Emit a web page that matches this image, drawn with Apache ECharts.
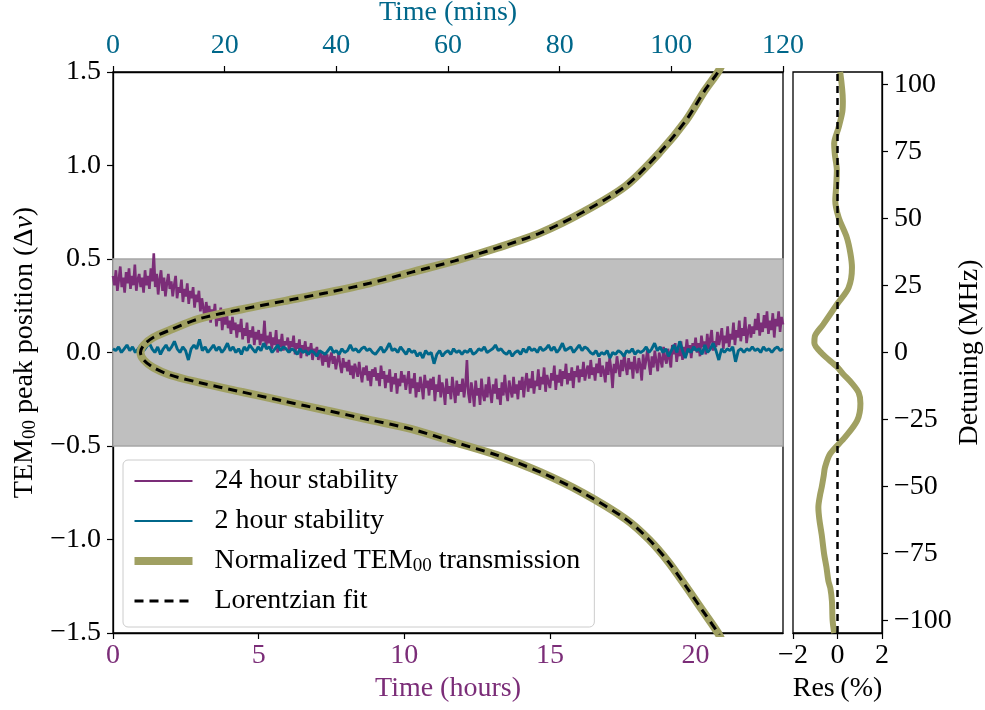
<!DOCTYPE html>
<html><head><meta charset="utf-8">
<script src="https://cdn.jsdelivr.net/npm/echarts@6/dist/echarts.min.js"></script>
<style>html,body{margin:0;padding:0;background:#fff}#c{width:985px;height:710px}</style>
</head><body><div id="c"></div>
<script>
// ---------- DATA ----------
const hourStep = 0.05; // 24 hour stability sampled every 0.05 h
const stab24h = [
 0.41,0.36,0.44,0.33,0.39,0.46,0.35,0.40,0.32,0.43, 0.37,0.45,0.34,0.41,0.36,0.47,0.33,0.39,0.42,0.35,
 0.40,0.32,0.44,0.36,0.41,0.34,0.45,0.38,0.53,0.35, 0.42,0.31,0.39,0.44,0.33,0.40,0.30,0.37,0.42,0.34,
 0.38,0.30,0.36,0.41,0.29,0.35,0.32,0.39,0.27,0.34, 0.30,0.37,0.26,0.33,0.29,0.35,0.24,0.31,0.27,0.33,
 0.22,0.29,0.24,0.18,0.27,0.21,0.25,0.16,0.23,0.19, 0.26,0.14,0.21,0.17,0.24,0.12,0.19,0.15,0.22,0.13,
 0.17,0.10,0.19,0.12,0.16,0.08,0.15,0.11,0.18,0.07, 0.13,0.09,0.16,0.05,0.12,0.08,0.14,0.04,0.11,0.07,
 0.12,0.04,0.10,0.06,0.17,0.03,0.09,0.05,0.11,0.02, 0.08,0.04,0.12,0.00,0.07,0.03,0.10,0.01,0.06,0.04,
 0.08,0.00,0.06,0.03,0.09,-0.01,0.05,0.02,0.07,-0.03, 0.04,0.01,0.06,-0.02,0.03,0.00,0.05,-0.04,0.02,-0.01,
 0.03,-0.04,0.01,-0.02,-0.07,0.00,-0.05,-0.01,-0.08,-0.03, 0.00,-0.06,-0.02,-0.09,-0.04,-0.01,-0.07,-0.11,-0.03,-0.08,
 -0.05,-0.10,-0.04,-0.12,-0.07,-0.14,-0.06,-0.09,-0.13,-0.05, -0.11,-0.16,-0.08,-0.12,-0.07,-0.15,-0.10,-0.18,-0.09,-0.13,
 -0.08,-0.15,-0.11,-0.18,-0.07,-0.14,-0.10,-0.19,-0.12,-0.16, -0.09,-0.21,-0.13,-0.17,-0.11,-0.22,-0.14,-0.18,-0.10,-0.16,
 -0.12,-0.20,-0.15,-0.10,-0.22,-0.14,-0.19,-0.11,-0.24,-0.16, -0.21,-0.13,-0.18,-0.25,-0.12,-0.19,-0.15,-0.23,-0.14,-0.20,
 -0.13,-0.26,-0.17,-0.21,-0.12,-0.24,-0.16,-0.20,-0.28,-0.14, -0.22,-0.18,-0.25,-0.13,-0.20,-0.27,-0.15,-0.23,-0.17,-0.21,
 -0.14,-0.24,-0.18,-0.04,-0.22,-0.27,-0.16,-0.21,-0.29,-0.15, -0.23,-0.19,-0.28,-0.14,-0.22,-0.26,-0.17,-0.24,-0.13,-0.21,
 -0.27,-0.17,-0.22,-0.14,-0.25,-0.19,-0.28,-0.16,-0.23,-0.12, -0.21,-0.26,-0.15,-0.20,-0.24,-0.13,-0.22,-0.17,-0.25,-0.15,
 -0.20,-0.13,-0.24,-0.16,-0.11,-0.21,-0.14,-0.19,-0.10,-0.22, -0.15,-0.18,-0.09,-0.20,-0.13,-0.17,-0.08,-0.21,-0.12,-0.16,
 -0.19,-0.11,-0.15,-0.07,-0.20,-0.12,-0.16,-0.09,-0.18,-0.10, -0.14,-0.06,-0.17,-0.11,-0.15,-0.08,-0.19,-0.10,-0.13,-0.07,
 -0.16,-0.09,-0.13,-0.05,-0.15,-0.10,-0.07,-0.14,-0.04,-0.12, -0.08,-0.15,-0.06,-0.11,-0.03,-0.13,-0.07,-0.10,-0.16,-0.05,
 -0.12,-0.03,-0.09,-0.19,-0.06,-0.11,-0.02,-0.08,-0.13,-0.04, -0.10,-0.01,-0.07,-0.12,-0.03,-0.09,-0.05,-0.14,-0.02,-0.08,
 -0.11,-0.03,-0.07,-0.15,-0.01,-0.09,-0.04,0.02,-0.06,-0.12, -0.02,-0.08,0.01,-0.05,-0.10,0.00,-0.04,-0.08,0.03,-0.03,
 -0.06,0.02,-0.03,-0.08,0.04,-0.01,0.05,-0.05,0.01,-0.02, 0.06,-0.04,0.03,-0.01,0.07,0.00,0.04,-0.03,0.05,0.01,
 0.08,0.00,0.05,-0.02,0.09,0.03,0.06,-0.01,0.10,0.02, 0.07,0.12,0.01,0.06,0.03,0.11,0.04,0.08,0.13,0.02,
 0.09,0.05,0.14,0.03,0.10,0.07,0.16,0.04,0.12,0.08, 0.17,0.06,0.13,0.09,0.19,0.05,0.11,0.15,0.08,0.14,
 0.10,0.18,0.12,0.21,0.09,0.16,0.11,0.20,0.13,0.22, 0.10,0.17,0.12,0.21,0.08,0.18,0.14,0.22,0.11,0.19,
 0.15
];
const minStep = 0.5; // 2 hour stability sampled every 0.5 min
const stab2h = [
 0.02, 0.01, 0.03, 0.00, 0.02, 0.04, 0.01, 0.03, 0.00, 0.02,
 0.04, 0.01, 0.03, 0.05, 0.02, 0.00, 0.03, -0.01, 0.02, 0.04,
 0.01, 0.03, 0.06, 0.02, 0.00, 0.03, 0.01, -0.04, 0.02, 0.04,
 0.02, 0.07, 0.01, 0.03, 0.00, 0.02, 0.04, 0.01, 0.03, 0.00,
 0.02, 0.05, 0.01, 0.03, 0.00, 0.02, -0.01, 0.03, 0.01, 0.04,
 0.02, 0.00, 0.03, 0.01, 0.05, 0.02, 0.03, 0.00, 0.02, 0.04,
 0.01, 0.03, 0.02, 0.00, 0.02, 0.01, -0.01, 0.02, 0.00, 0.01,
 -0.01, 0.01, 0.00, -0.02, 0.01, 0.00, -0.01, 0.01, 0.03, 0.00,
 0.01, -0.01, 0.02, 0.00, 0.01, 0.04, 0.01, 0.02, 0.00, 0.02,
 0.03, 0.01, 0.02, 0.00, -0.01, 0.01, 0.03, 0.00, 0.02, 0.05,
 0.01, 0.02, 0.00, 0.03, 0.01, -0.01, 0.02, 0.00, 0.01, -0.02,
 0.00, -0.03, 0.01, -0.01, 0.00, -0.06, -0.01, 0.01, -0.02, 0.00,
 0.01, -0.01, 0.02, 0.00, 0.01, -0.01, 0.01, 0.00, 0.02, -0.01,
 0.00, 0.02, 0.01, 0.03, 0.00, 0.01, 0.02, 0.04, 0.01, 0.02,
 0.00, -0.01, 0.01, -0.02, 0.00, 0.01, -0.01, 0.02, 0.00, 0.03,
 0.01, 0.02, 0.00, 0.03, 0.01, 0.02, 0.04, 0.01, 0.03, 0.00,
 0.02, 0.05, 0.01, 0.02, 0.03, 0.00, 0.02, 0.04, 0.01, 0.03,
 0.02, 0.00, -0.01, 0.01, -0.02, 0.00, -0.01, 0.01, -0.03, 0.00,
 -0.01, 0.01, 0.00, -0.02, 0.01, 0.00, 0.02, -0.01, 0.01, 0.00,
 0.01, 0.03, 0.00, 0.02, 0.05, 0.01, 0.03, 0.00, 0.02, -0.02,
 0.01, 0.04, 0.00, 0.06, 0.01, -0.03, 0.02, 0.00, 0.03, 0.01,
 0.02, -0.01, 0.04, 0.00, 0.02, 0.05, 0.01, -0.04, 0.02, 0.00,
 0.02, 0.01, 0.03, -0.05, 0.01, 0.02, 0.00, 0.02, 0.01, 0.03,
 0.01, 0.02, 0.00, 0.03, 0.01, 0.02, 0.00, 0.02, 0.03, 0.01,
 0.02
];
// Normalized TEM00 transmission (x: normalized, y: peak position)
const transX = [0.91, 0.903, 0.88, 0.855, 0.829, 0.80, 0.765, 0.701, 0.638, 0.574, 0.51, 0.446, 0.383, 0.319, 0.255, 0.191, 0.128, 0.085, 0.06, 0.046, 0.041, 0.046, 0.06, 0.085, 0.128, 0.191, 0.255, 0.319, 0.383, 0.446, 0.51, 0.574, 0.638, 0.701, 0.765, 0.816, 0.855, 0.883, 0.903, 0.91];
const transY = [-1.55, -1.50, -1.38, -1.25, -1.12, -1.0, -0.89, -0.75, -0.64, -0.55, -0.48, -0.41, -0.36, -0.31, -0.26, -0.21, -0.16, -0.12, -0.08, -0.04, 0.0, 0.04, 0.08, 0.12, 0.18, 0.23, 0.275, 0.32, 0.37, 0.43, 0.49, 0.56, 0.64, 0.75, 0.89, 1.07, 1.24, 1.40, 1.50, 1.55];
// Lorentzian fit
const fitX = [0.91, 0.903, 0.88, 0.855, 0.829, 0.80, 0.765, 0.701, 0.638, 0.574, 0.51, 0.446, 0.383, 0.319, 0.255, 0.191, 0.128, 0.085, 0.06, 0.046, 0.041, 0.046, 0.06, 0.085, 0.128, 0.191, 0.255, 0.319, 0.383, 0.446, 0.51, 0.574, 0.638, 0.701, 0.765, 0.816, 0.855, 0.883, 0.903, 0.91];
const fitY = [-1.55, -1.50, -1.38, -1.25, -1.12, -1.0, -0.89, -0.75, -0.64, -0.55, -0.48, -0.41, -0.36, -0.31, -0.26, -0.21, -0.16, -0.12, -0.08, -0.04, 0.0, 0.04, 0.08, 0.12, 0.18, 0.23, 0.275, 0.32, 0.37, 0.43, 0.49, 0.56, 0.64, 0.75, 0.89, 1.07, 1.24, 1.40, 1.50, 1.55];
// Residuals (%) vs detuning (MHz)
const resX = [-0.15, -0.22, -0.25, -0.32, -0.41, -0.5, -0.6, -0.71, -0.82, -0.86, -0.78, -0.71, -0.62, -0.56, -0.33, 0.35, 0.89, 1.03, 0.95, 0.65, 0.25, -0.03, -0.71, -1.04, -1.02, -0.64, -0.03, 0.5, 0.65, 0.58, 0.42, 0.05, -0.1, -0.06, -0.03, -0.12, -0.15, 0.05, 0.22, 0.24, 0.12];
const resY = [-104.7, -100, -92.8, -88, -85.3, -80, -75.3, -68, -62, -57.8, -53, -50.3, -46, -42.8, -37.8, -31.5, -25.3, -19, -15, -11.5, -8, -5.3, -0.3, 3.5, 6, 10.5, 17.9, 24.2, 31.7, 37, 42.9, 50.4, 56.7, 62, 68, 74, 78, 84, 90, 94, 104.7];
const zeroX = [0, 0];
const zeroY = [-104.7, 104.7];
// Tick labels
const hourTicks = [0, 5, 10, 15, 20];
const detTicks = [-100, -75, -50, -25, 0, 25, 50, 75, 100];

// ---------- CHART ----------
const FONT = 'Liberation Serif';
const FS = 28;
const PURPLE = '#7b2d78', TEAL = '#00678a', OLIVE = '#a0a062';
const minus = v => String(v).replace('-', '\u2212');
const subRich = {
  sub: {fontFamily: FONT, fontSize: 19, lineHeight: 16, verticalAlign: 'bottom'},
  it: {fontFamily: FONT, fontSize: FS, fontStyle: 'italic', lineHeight: 30},
  n: {fontFamily: FONT, fontSize: FS, lineHeight: 30}
};
const axLine = {show: true, onZero: false, lineStyle: {color: '#000', width: 1.3}};
const axTick = {show: true, inside: false, length: 6, lineStyle: {color: '#000', width: 1.2}};
const lab = (c, extra) => Object.assign({fontFamily: FONT, fontSize: FS, color: c || '#000'}, extra || {});

const chart = echarts.init(document.getElementById('c'), null, {renderer: 'canvas'});
const TRANS_NAME = 'Normalized TEM00 transmission';
chart.setOption({
  animation: false,
  backgroundColor: '#fff',
  grid: [
    {left: 113, top: 72, width: 670, height: 561, containLabel: false, outerBoundsMode: 'none', show: true, borderColor: '#000', borderWidth: 1.3, backgroundColor: 'transparent'},
    {left: 793, top: 72, width: 89, height: 561, containLabel: false, outerBoundsMode: 'none', show: true, borderColor: '#000', borderWidth: 1.3, backgroundColor: 'transparent'}
  ],
  legend: {
    data: ['24 hour stability', '2 hour stability',
      {name: TRANS_NAME, icon: 'path://M0 0H58V8H0Z', itemStyle: {opacity: 1, color: OLIVE}},
      {name: 'Lorentzian fit', lineStyle: {width: 3, type: [9, 6]}}],
    orient: 'vertical', left: 123, top: 460,
    padding: [6, 14, 11, 10],
    itemWidth: 58, itemHeight: 20, itemGap: 10,
    backgroundColor: 'rgba(255,255,255,0.8)', borderColor: '#cccccc', borderWidth: 1, borderRadius: 5,
    selectedMode: false,
    itemStyle: {opacity: 0},
    textStyle: {fontFamily: FONT, fontSize: FS, color: '#000', lineHeight: 30, padding: [0, 0, 0, 17], rich: subRich},
    formatter: n => n === TRANS_NAME ? '{n|Normalized TEM}{sub|00}{n| transmission}' : n
  },
  xAxis: [
    {gridIndex: 0, type: 'value', position: 'bottom', min: 0, max: 23,
     axisLine: axLine, axisTick: Object.assign({customValues: hourTicks}, axTick), splitLine: {show: false},
     axisLabel: lab(PURPLE, {margin: 9, customValues: hourTicks}),
     name: 'Time (hours)', nameLocation: 'middle', nameGap: 42, nameTextStyle: lab(PURPLE)},
    {gridIndex: 0, type: 'value', position: 'top', min: 0, max: 120, interval: 20,
     axisLine: axLine, axisTick: axTick, splitLine: {show: false},
     axisLabel: lab(TEAL, {margin: 12}),
     name: 'Time (mins)', nameLocation: 'middle', nameGap: 40, nameTextStyle: lab(TEAL)},
    {gridIndex: 0, type: 'value', min: 0, max: 1, show: false},
    {gridIndex: 1, type: 'value', position: 'bottom', min: -2, max: 2, interval: 2,
     axisLine: axLine, axisTick: axTick, splitLine: {show: false},
     axisLabel: lab('#000', {margin: 9, formatter: minus, showMinLabel: true, showMaxLabel: true}),
     name: 'Res\u2009(%)', nameLocation: 'middle', nameGap: 42, nameTextStyle: lab('#000')}
  ],
  yAxis: [
    {gridIndex: 0, type: 'value', min: -1.5, max: 1.5, interval: 0.5,
     axisLine: axLine, axisTick: axTick, splitLine: {show: false},
     axisLabel: lab('#000', {margin: 12, formatter: v => minus(v.toFixed(1))}),
     name: '{n|TEM}{sub|00}{n| peak position (\u0394}{it|v}{n|)}', nameLocation: 'middle', nameGap: 70, nameRotate: 90,
     nameTextStyle: Object.assign(lab('#000'), {rich: subRich})},
    {gridIndex: 1, type: 'value', position: 'right', min: -104.7, max: 104.7,
     axisLine: axLine, axisTick: Object.assign({customValues: detTicks}, axTick), splitLine: {show: false},
     axisLabel: lab('#000', {margin: 12, customValues: detTicks, formatter: minus}),
     name: 'Detuning\u2009(MHz)', nameLocation: 'middle', nameGap: 70, nameRotate: 90, nameTextStyle: lab('#000')}
  ],
  series: [
    {name: '24 hour stability', type: 'line', xAxisIndex: 0, yAxisIndex: 0, z: 2,
     data: stab24h.map((v, i) => [i * hourStep, v]), symbol: 'none', lineStyle: {color: PURPLE, width: 2.6}, itemStyle: {color: PURPLE},
     markArea: {silent: true, z: 1, itemStyle: {color: '#bfbfbf', borderColor: '#a6a6a6', borderWidth: 1.5},
       data: [[{yAxis: -0.5}, {yAxis: 0.5}]]}},
    {name: '2 hour stability', type: 'line', xAxisIndex: 1, yAxisIndex: 0, z: 3,
     data: stab2h.map((v, i) => [i * minStep, v]), symbol: 'none', lineStyle: {color: TEAL, width: 2.9}, itemStyle: {color: TEAL}},
    {name: TRANS_NAME, type: 'line', xAxisIndex: 2, yAxisIndex: 0, z: 4, smooth: 0.3,
     data: transX.map((x, i) => [x, transY[i]]), symbol: 'none', lineStyle: {color: OLIVE, width: 8}, itemStyle: {color: OLIVE}},
    {name: 'Lorentzian fit', type: 'line', xAxisIndex: 2, yAxisIndex: 0, z: 5, smooth: 0.3,
     data: fitX.map((x, i) => [x, fitY[i]]), symbol: 'none', lineStyle: {color: '#000', width: 3, type: [9, 6]}, itemStyle: {color: '#000'}},
    {name: 'res', type: 'line', xAxisIndex: 3, yAxisIndex: 1, z: 3, smooth: 0.3,
     data: resX.map((x, i) => [x, resY[i]]), symbol: 'none', lineStyle: {color: OLIVE, width: 6}},
    {name: 'zero', type: 'line', xAxisIndex: 3, yAxisIndex: 1, z: 4,
     data: zeroX.map((x, i) => [x, zeroY[i]]), symbol: 'none', lineStyle: {color: '#000', width: 2.5, type: [7, 5]}}
  ]
});
</script></body></html>
